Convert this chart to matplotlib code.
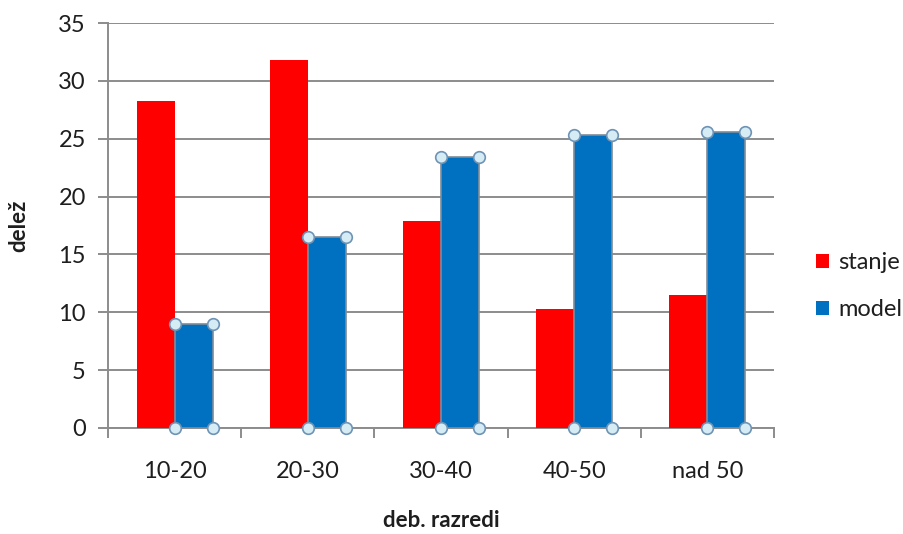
import matplotlib
matplotlib.use("Agg")
import matplotlib.pyplot as plt
from matplotlib.patches import Patch
import numpy as np

categories = ["10-20", "20-30", "30-40", "40-50", "nad 50"]
stanje = [28.3, 31.8, 17.9, 10.3, 11.5]
model = [9.0, 16.5, 23.4, 25.3, 25.6]
y_ticks = [0, 5, 10, 15, 20, 25, 30, 35]

RED = "#FF0000"
BLUE = "#0070C0"
GRID = "#8C8C8C"
TEXT = "#1e1e1e"
FS = 17

plt.rcParams["font.family"] = ["Lato", "DejaVu Sans"]

fig = plt.figure(figsize=(9.04, 5.34), dpi=100)
ax = fig.add_axes([108 / 904, 106 / 534, 666 / 904, 405 / 534])

x = np.arange(len(categories))
w = 0.285
ax.bar(x - w / 2, stanje, w, color=RED, zorder=3)
blue_bars = ax.bar(x + w / 2, model, w, color=BLUE,
                   edgecolor="#7f8c99", linewidth=1.2, zorder=3)

# selection handles at the corners of the model bars
hx, hy = [], []
for b in blue_bars:
    x0, x1 = b.get_x(), b.get_x() + b.get_width()
    h = b.get_height()
    hx += [x0, x1, x0, x1]
    hy += [0, 0, h, h]
ax.scatter(hx, hy, s=70, facecolor="#d6ecf5", edgecolor="#6e93b5",
           linewidth=1.2, zorder=5, clip_on=False)

ax.set_xlim(-0.5, len(categories) - 0.5)
ax.set_ylim(0, 35)
ax.set_yticks(y_ticks)
ax.yaxis.grid(True, color=GRID, linewidth=1.4, zorder=0)
ax.set_axisbelow(True)

ax.set_xticks(x)
ax.set_xticklabels(categories)
ax.set_xticks(np.arange(-0.5, len(categories)), minor=True)
ax.tick_params(axis="x", which="major", length=0, pad=24, labelsize=FS,
               labelcolor=TEXT)
ax.tick_params(axis="x", which="minor", length=7, width=1.4, color=GRID,
               direction="out")
ax.tick_params(axis="y", length=7, width=1.4, color=GRID, labelsize=FS,
               labelcolor=TEXT, pad=9)

for s in ["top", "right"]:
    ax.spines[s].set_visible(False)
for s in ["left", "bottom"]:
    ax.spines[s].set_color(GRID)
    ax.spines[s].set_linewidth(1.4)

ax.set_xlabel("deb. razredi", fontsize=16, fontweight="bold", labelpad=20,
              color=TEXT)
ax.set_ylabel("delež", fontsize=16, fontweight="bold", labelpad=21,
              color=TEXT)

handles = [Patch(facecolor=RED), Patch(facecolor=BLUE)]
fig.legend(handles=handles, labels=["stanje", "model"],
           loc="center left", bbox_to_anchor=(816 / 904, 1 - 286 / 534),
           frameon=False, fontsize=FS, handlelength=0.55, handleheight=0.55,
           labelspacing=1.1, handletextpad=0.4, borderpad=0,
           borderaxespad=0, labelcolor=TEXT)

fig.savefig("out.png", dpi=100)
